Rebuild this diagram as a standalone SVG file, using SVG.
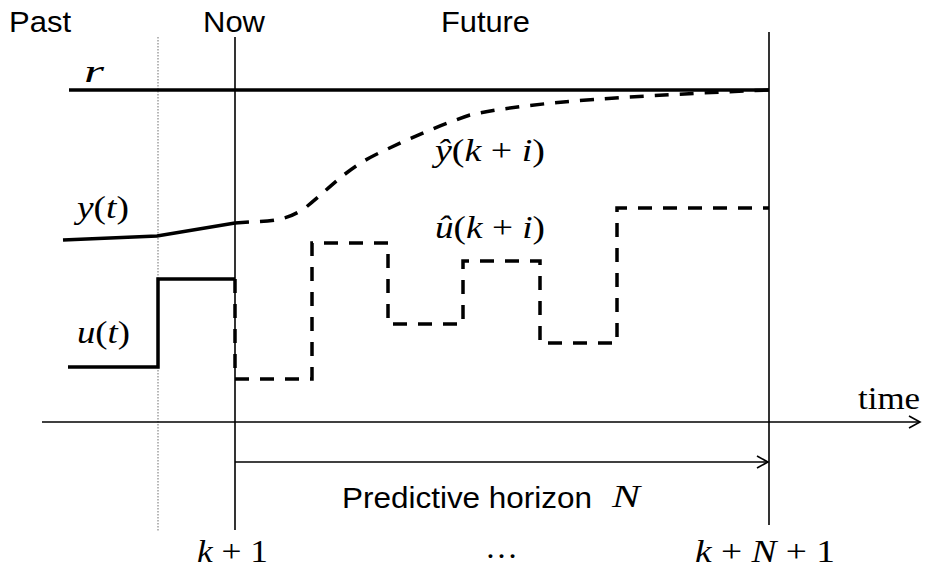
<svg xmlns="http://www.w3.org/2000/svg" width="927" height="571" viewBox="0 0 927 571">
<style>
.sans{font-family:"Liberation Sans",Arial,sans-serif;font-size:30px;fill:#000}
.math{font-family:"Liberation Serif","Times New Roman",serif;font-size:32px;fill:#000}
.it{font-style:italic}
.thin{stroke:#000;stroke-width:1.6;fill:none}
.thick{stroke:#000;stroke-width:3.5;fill:none}
.dash{stroke:#000;stroke-width:3.5;fill:none;stroke-dasharray:14 11}
</style>
<defs>
<marker id="chev" markerWidth="14" markerHeight="14" refX="12" refY="7" orient="auto" markerUnits="userSpaceOnUse">
<path d="M1,1 L12,7 L1,13" fill="none" stroke="#000" stroke-width="1.6"/>
</marker>
</defs>
<rect width="927" height="571" fill="#fff"/>
<g id="labels">
<text class="sans" x="9" y="32" textLength="62" lengthAdjust="spacingAndGlyphs">Past</text>
<text class="sans" x="203" y="32" textLength="62" lengthAdjust="spacingAndGlyphs">Now</text>
<text class="sans" x="441" y="32" textLength="89" lengthAdjust="spacingAndGlyphs">Future</text>
<text class="sans" x="342" y="508" textLength="250" lengthAdjust="spacingAndGlyphs">Predictive horizon</text>
<text class="math it" x="612" y="507" textLength="28" lengthAdjust="spacingAndGlyphs">N</text>
<text class="math it" x="84" y="82" textLength="20" lengthAdjust="spacingAndGlyphs">r</text>
<text class="math" x="77" y="218" textLength="52" lengthAdjust="spacingAndGlyphs"><tspan class="it">y</tspan>(<tspan class="it">t</tspan>)</text>
<text class="math" x="77" y="343" textLength="53" lengthAdjust="spacingAndGlyphs"><tspan class="it">u</tspan>(<tspan class="it">t</tspan>)</text>
<text class="math" x="435" y="161" textLength="110" lengthAdjust="spacingAndGlyphs"><tspan class="it">ŷ</tspan>(<tspan class="it">k</tspan> + <tspan class="it">i</tspan>)</text>
<text class="math" x="435" y="238" textLength="110" lengthAdjust="spacingAndGlyphs"><tspan class="it">û</tspan>(<tspan class="it">k</tspan> + <tspan class="it">i</tspan>)</text>
<text class="math" x="858" y="409" textLength="62" lengthAdjust="spacingAndGlyphs">time</text>
<text class="math" x="197" y="562" textLength="71" lengthAdjust="spacingAndGlyphs"><tspan class="it">k</tspan> + 1</text>
<text class="math" x="485" y="558" textLength="33" lengthAdjust="spacingAndGlyphs">…</text>
<text class="math" x="695" y="562" textLength="140" lengthAdjust="spacingAndGlyphs"><tspan class="it">k</tspan> + <tspan class="it">N</tspan> + 1</text>
</g>
<g id="connectors">
<line x1="158" y1="37" x2="158" y2="531" stroke="#888" stroke-width="1.2" stroke-dasharray="1.5 1.5"/>
<line class="thin" x1="235" y1="37" x2="235" y2="530"/>
<line class="thin" x1="769" y1="32" x2="769" y2="525"/>
<line class="thin" x1="42" y1="422" x2="920" y2="422" marker-end="url(#chev)"/>
<line class="thin" x1="235" y1="462" x2="768" y2="462" marker-end="url(#chev)"/>
<line class="thick" x1="69" y1="90" x2="769" y2="90"/>
<polyline class="thick" points="63,240 157,236 235,223"/>
<polyline class="thick" points="68,367 158,367 158,279 235,279"/>
<path class="dash" d="M235,223 L250,222 C280,221 290,218 305,208 C330,188 345,170 375,155 C410,138 440,125 470,115 C520,104 600,97 769,90"/>
<polyline class="dash" points="235,279 235,379 312,379 312,243 388,243 388,324 463,324 463,261 540,261 540,343 617,343 617,208 769,208"/>
</g>
</svg>
